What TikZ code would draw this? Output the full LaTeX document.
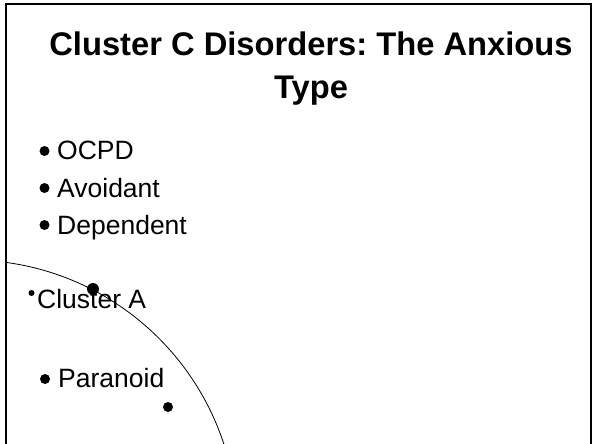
\documentclass[tikz,border=0pt]{standalone}
\usepackage{fontspec}
\setmainfont{Liberation Sans}
\frenchspacing
\begin{document}
\begin{tikzpicture}[x=1pt,y=-1pt,
  frame/.style={line width=2pt},
  heading/.style={font=\bfseries\fontsize{32.7}{43}\selectfont, align=center, inner sep=0pt},
  item/.style={font=\fontsize{26.5}{30}\selectfont, anchor=base west, inner sep=0pt},
  bullet/.style={circle, fill=black, inner sep=0pt, minimum size=#1}]
\useasboundingbox (0,0) rectangle (595,444);
% slide border, open at the bottom
\draw[frame] (6,444) -- (6,4) -- (591,4) -- (591,444);
% arc of the large circle in the lower left
\begin{scope}
  \clip (6,4) rectangle (591,444);
  \draw[line width=0.8pt] (-30,527) circle[radius=267];
\end{scope}
% title
\node[heading] (title) at (311,69) {Cluster C Disorders: The Anxious\\Type};
% bullet list
\node[bullet=10pt] (b1) at (44.5,151) {};
\node[item] (t1) at (57,160) {OCPD};
\node[bullet=10pt] (b2) at (44.5,188) {};
\node[item] (t2) at (57,197) {Avoidant};
\node[bullet=10pt] (b3) at (44.5,225) {};
\node[item] (t3) at (57,234) {Dependent};
% loose dots and labels inside the circle
\node[bullet=6pt] (d0) at (31.5,293) {};
\node[item] (ca) at (37,308) {Cluster A};
\node[bullet=12pt] (d1) at (93,289) {};
\node[bullet=10pt] (b4) at (45,379) {};
\node[item] (t4) at (58,387) {Paranoid};
\node[bullet=10pt] (d2) at (168,407) {};
\end{tikzpicture}
\end{document}
